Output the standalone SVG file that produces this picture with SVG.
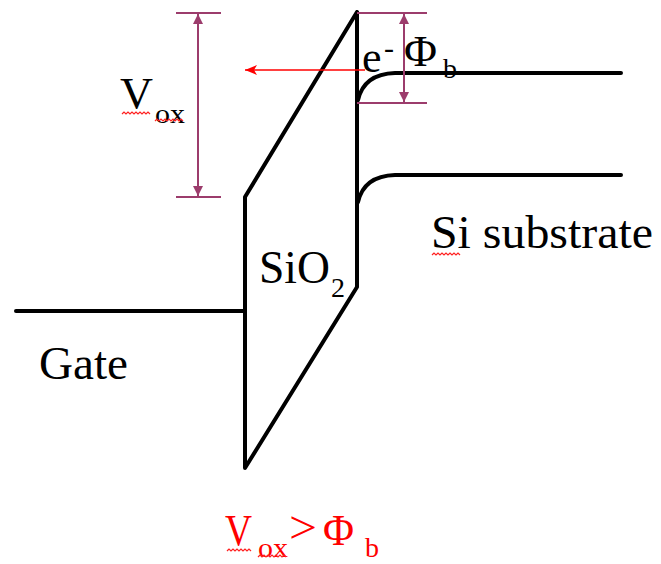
<svg xmlns="http://www.w3.org/2000/svg" width="661" height="564" viewBox="0 0 661 564">
<style>
.band{fill:none;stroke:#000;stroke-width:4;stroke-linejoin:round;stroke-linecap:round}
.dim{fill:none;stroke:#9C3C6C;stroke-width:2}
.t{font-family:"Liberation Serif","Times New Roman",serif;fill:#000}
.r{fill:#FF0000}
.sq{fill:none;stroke:#FF2020;stroke-width:1.2}
</style>
<defs>
<marker id="pa" viewBox="0 0 10 10" refX="10" refY="5" markerWidth="10" markerHeight="10" markerUnits="userSpaceOnUse" orient="auto-start-reverse">
<path d="M0,0 L10,5 L0,10 Z" fill="#9C3C6C"/>
</marker>
<marker id="ra" viewBox="0 0 12 10" refX="12" refY="5" markerWidth="13" markerHeight="10" markerUnits="userSpaceOnUse" orient="auto">
<path d="M0,0 L12,5 L0,10 L3,5 Z" fill="#FF0000"/>
</marker>
</defs>
<rect width="661" height="564" fill="#fff"/>
<g id="gate">
<line class="band" x1="16" y1="311" x2="243" y2="311"/>
<text class="t" x="39" y="379" font-size="47" textLength="89" lengthAdjust="spacingAndGlyphs">Gate</text>
</g>
<g id="oxide">
<path class="band" d="M357,12 L245,197 L245,468 L357,287 L357,12"/>
<text class="t" x="259" y="283" font-size="46" textLength="71" lengthAdjust="spacingAndGlyphs">SiO</text>
<text class="t" x="331" y="297" font-size="28">2</text>
</g>
<g id="substrate">
<path class="band" d="M358,100 Q364,74 395,73 L621,73"/>
<path class="band" d="M358,202 Q364,176 395,175 L621,175"/>
<text class="t" x="431" y="248" font-size="47" textLength="222" lengthAdjust="spacingAndGlyphs">Si substrate</text>
</g>
<g id="connectors">
<line class="dim" x1="176" y1="13" x2="221" y2="13"/>
<line class="dim" x1="176" y1="197" x2="221" y2="197"/>
<line class="dim" x1="198" y1="14" x2="198" y2="196" marker-start="url(#pa)" marker-end="url(#pa)"/>
<line class="dim" x1="357" y1="13" x2="427" y2="13"/>
<line class="dim" x1="357" y1="103" x2="427" y2="103"/>
<line class="dim" x1="404" y1="14" x2="404" y2="102" marker-start="url(#pa)" marker-end="url(#pa)"/>
<line x1="365" y1="70" x2="245" y2="70" stroke="#FF0000" stroke-width="1.6" marker-end="url(#ra)"/>
</g>
<g id="labels">
<text class="t" x="120" y="108" font-size="44" textLength="33" lengthAdjust="spacingAndGlyphs">V</text>
<text class="t" x="155" y="123" font-size="27" textLength="30" lengthAdjust="spacingAndGlyphs">ox</text>
<text class="t" x="362" y="72" font-size="44">e</text>
<text class="t" x="384" y="58" font-size="30">-</text>
<text class="t" x="404" y="66" font-size="45" textLength="33" lengthAdjust="spacingAndGlyphs">Φ</text>
<text class="t" x="443" y="78" font-size="28">b</text>
</g>
<g id="condition">
<text class="t r" x="225" y="545" font-size="45" textLength="27" lengthAdjust="spacingAndGlyphs">V</text>
<text class="t r" x="258" y="557" font-size="27" textLength="30" lengthAdjust="spacingAndGlyphs">ox</text>
<text class="t r" x="289" y="543" font-size="46" textLength="28" lengthAdjust="spacingAndGlyphs">&gt;</text>
<text class="t r" x="323" y="545" font-size="45" textLength="31" lengthAdjust="spacingAndGlyphs">Φ</text>
<text class="t r" x="365" y="557" font-size="28">b</text>
</g>
<g id="spellcheck">
<path class="sq" d="M122,114 l2,-2 l2,2 l2,-2 l2,2 l2,-2 l2,2 l2,-2 l2,2 l2,-2 l2,2 l2,-2 l2,2 l2,-2 l2,2"/>
<path class="sq" d="M155,121 l2,-2 l2,2 l2,-2 l2,2 l2,-2 l2,2 l2,-2 l2,2 l2,-2 l2,2 l2,-2 l2,2 l2,-2 l2,2"/>
<path class="sq" d="M432,255 l2,-2 l2,2 l2,-2 l2,2 l2,-2 l2,2 l2,-2 l2,2 l2,-2 l2,2 l2,-2 l2,2 l2,-2 l2,2"/>
<path class="sq" d="M227,551 l2,-2 l2,2 l2,-2 l2,2 l2,-2 l2,2 l2,-2 l2,2 l2,-2 l2,2 l2,-2 l2,2"/>
<path class="sq" d="M258,557 l2,-2 l2,2 l2,-2 l2,2 l2,-2 l2,2 l2,-2 l2,2 l2,-2 l2,2 l2,-2 l2,2 l2,-2 l2,2"/>
</g>
</svg>
